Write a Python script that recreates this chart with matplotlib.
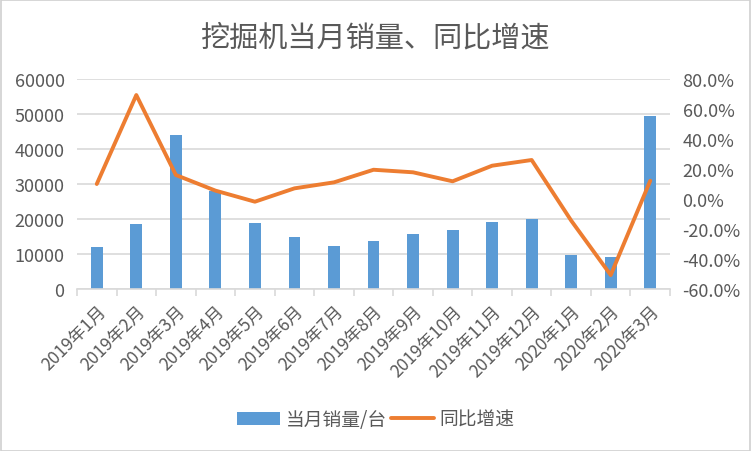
import matplotlib
matplotlib.use("Agg")
import matplotlib.pyplot as plt
from matplotlib.patches import Rectangle
from matplotlib.ticker import FuncFormatter, MultipleLocator
import numpy as np

plt.rcParams['font.family'] = ['Noto Sans CJK SC', 'DejaVu Sans']

months = ["2019年1月", "2019年2月", "2019年3月", "2019年4月", "2019年5月", "2019年6月",
          "2019年7月", "2019年8月", "2019年9月", "2019年10月", "2019年11月", "2019年12月",
          "2020年1月", "2020年2月", "2020年3月"]
sales = [11900, 18700, 44000, 28000, 19000, 15000, 12300, 13800, 15800, 16900,
         19200, 20000, 9700, 9200, 49300]
yoy = [10.0, 69.3, 16.0, 5.6, -1.8, 7.1, 11.1, 19.5, 17.8, 11.8, 22.2, 26.0,
       -14.4, -50.7, 12.2]

blue = "#5B9BD5"
orange = "#ED7D31"
text_c = "#595959"
grid_c = "#D9D9D9"

fig = plt.figure(figsize=(7.52, 4.52), dpi=100)
fig.patches.append(Rectangle((0.001, 0.001), 0.997, 0.997, transform=fig.transFigure,
                             fill=False, edgecolor="#D0D0D0", lw=1.2))

ax = fig.add_axes([0.1024, 0.3584, 0.7886, 0.4646])
x = np.arange(len(months))
ax.bar(x, sales, width=0.3, color=blue, zorder=2, label="当月销量/台")
ax.set_ylim(0, 60000)
ax.set_xlim(-0.5, len(months) - 0.5)
ax.yaxis.set_major_locator(MultipleLocator(10000))
ax.grid(axis="y", color=grid_c, lw=1.2, zorder=0)
for s in ["top", "right", "left"]:
    ax.spines[s].set_visible(False)
ax.spines["bottom"].set_color(grid_c)
ax.spines["bottom"].set_linewidth(1.2)
ax.set_xticks(x)
ax.set_xticklabels(months, rotation=45, ha="right", rotation_mode="anchor",
                   fontsize=12.5, color=text_c)
ax.set_xticks(np.arange(-0.5, len(months), 1), minor=True)
ax.tick_params(axis="x", which="major", length=0, pad=9)
ax.tick_params(axis="x", which="minor", length=5, color=grid_c, width=1.2)
ax.tick_params(axis="y", length=0, labelsize=13, labelcolor=text_c, pad=9)

ax2 = ax.twinx()
ax2.plot(x, yoy, color=orange, lw=2.8, solid_capstyle="round", solid_joinstyle="round",
         zorder=3, label="同比增速")
ax2.set_ylim(-60, 80)
ax2.yaxis.set_major_locator(MultipleLocator(20))
ax2.yaxis.set_major_formatter(FuncFormatter(lambda v, p: "{0:.1f}%".format(v)))
for s in ["top", "right", "left", "bottom"]:
    ax2.spines[s].set_visible(False)
ax2.tick_params(axis="y", length=0, labelsize=13, labelcolor=text_c, pad=9)

fig.text(0.5, 0.915, "挖掘机当月销量、同比增速", ha="center", va="center",
         fontsize=21, color=text_c)

h1, l1 = ax.get_legend_handles_labels()
h2, l2 = ax2.get_legend_handles_labels()
fig.legend(h1 + h2, l1 + l2, loc="center", bbox_to_anchor=(0.5, 0.07), ncol=2,
           frameon=False, fontsize=13.5, labelcolor=text_c, handlelength=2.3,
           handletextpad=0.3, columnspacing=0.2)

fig.savefig("out.png", dpi=100)
